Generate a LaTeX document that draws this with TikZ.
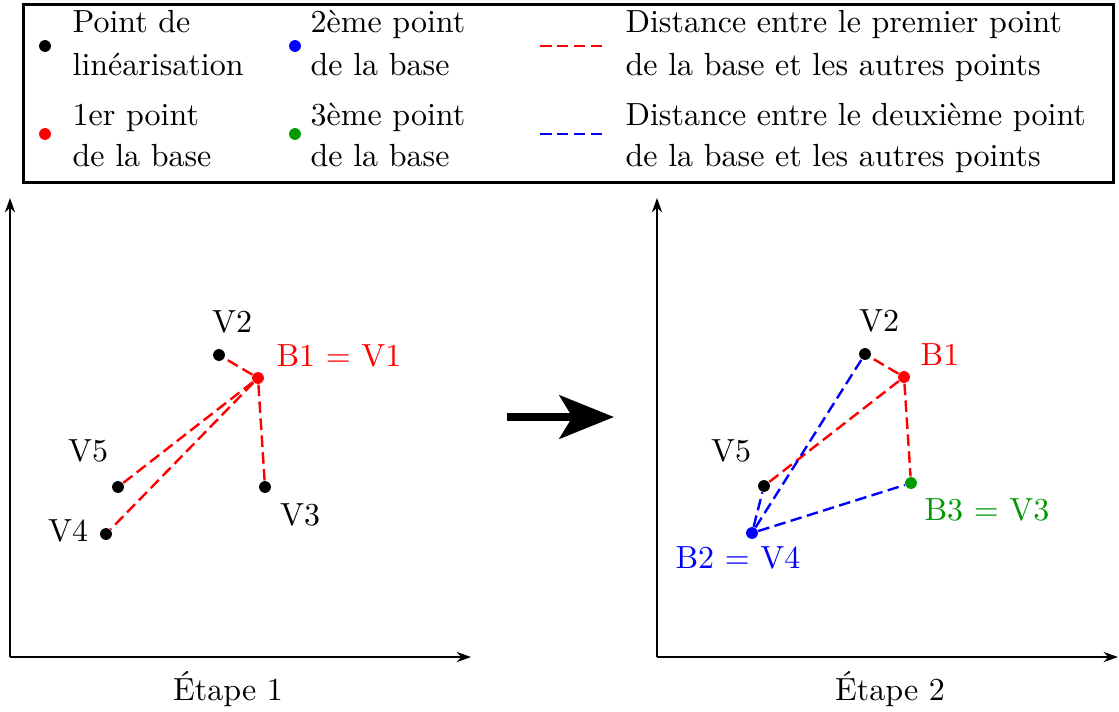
\documentclass[tikz,border=0pt]{standalone}
\usepackage{fontspec}
\usetikzlibrary{arrows.meta}
\definecolor{mygreen}{RGB}{0,153,0}
\begin{document}
\begin{tikzpicture}[x=0.3125pt,y=-0.3125pt,
  dot/.style={circle,fill=#1,inner sep=0pt,minimum size=3.7pt},
  dist/.style={draw=#1,line width=0.75pt,dash pattern=on 3.6pt off 1.7pt},
  lbl/.style={inner sep=0pt,anchor=base west},
  ptlbl/.style={inner sep=0pt,text=#1},
  axis/.style={line width=0.65pt,-{Stealth[length=4.5pt,width=3.2pt]}}]
\useasboundingbox (0,0) rectangle (1119,711);
% legend
\node[draw,line width=0.85pt,minimum width=1090*0.3125pt,minimum height=178*0.3125pt,anchor=north west,inner sep=0pt] (legend) at (22,3) {};
\node[dot=black] (lk) at (45,46) {};
\node[dot=red] (lr) at (45,134) {};
\node[dot=blue] (lb) at (295,46) {};
\node[dot=mygreen] (lg) at (295,134) {};
\node[lbl] (t1a) at (72,32) {Point de};
\node[lbl] (t1b) at (72,75) {linéarisation};
\node[lbl] (t2a) at (72,125) {1er point};
\node[lbl] (t2b) at (72,166) {de la base};
\node[lbl] (t3a) at (310,32) {2ème point};
\node[lbl] (t3b) at (310,75) {de la base};
\node[lbl] (t4a) at (310,125) {3ème point};
\node[lbl] (t4b) at (310,166) {de la base};
\coordinate (rl1) at (540,46); \coordinate (rl2) at (602,46);
\coordinate (bl1) at (540,134); \coordinate (bl2) at (602,134);
\draw[dist=red] (rl1) -- (rl2);
\draw[dist=blue] (bl1) -- (bl2);
\node[lbl] (t5a) at (625,32) {Distance entre le premier point};
\node[lbl] (t5b) at (625,75) {de la base et les autres points};
\node[lbl] (t6a) at (625,125) {Distance entre le deuxième point};
\node[lbl] (t6b) at (625,166) {de la base et les autres points};
% left plot
\coordinate (O1) at (10,657);
\coordinate (Y1) at (10,198);
\coordinate (X1) at (471,657);
\draw[axis] (O1) -- (Y1);
\draw[axis] (O1) -- (X1);
\node[dot=black] (aV2) at (219,355) {};
\node[dot=red] (aV1) at (258,378) {};
\node[dot=black] (aV3) at (265,487) {};
\node[dot=black] (aV5) at (118,487) {};
\node[dot=black] (aV4) at (106,534) {};
\draw[dist=red] (aV1) -- (aV2);
\draw[dist=red] (aV1) -- (aV5);
\draw[dist=red] (aV1) -- (aV4);
\draw[dist=red] (aV1) -- (aV3);
\node[ptlbl=black] (laV2) at (232,322) {V2};
\node[ptlbl=red] (laV1) at (339,356) {B1 = V1};
\node[ptlbl=black] (laV5) at (88,451) {V5};
\node[ptlbl=black] (laV4) at (68,531) {V4};
\node[ptlbl=black] (laV3) at (300,515) {V3};
\node[ptlbl=black] (e1) at (228,689) {Étape 1};
% big arrow
\coordinate (arS) at (507,417);
\coordinate (arE) at (614,417);
\draw[line width=2.6pt,-{Stealth[length=17pt,width=13.5pt,inset=4pt]}] (arS) -- (arE);
% right plot
\coordinate (O2) at (657,657);
\coordinate (Y2) at (657,198);
\coordinate (X2) at (1118,657);
\draw[axis] (O2) -- (Y2);
\draw[axis] (O2) -- (X2);
\node[dot=black] (bV2) at (865,354) {};
\node[dot=red] (bB1) at (904,377) {};
\node[dot=mygreen] (bB3) at (911,483) {};
\node[dot=black] (bV5) at (764,486) {};
\node[dot=blue] (bB2) at (752,533) {};
\draw[dist=red] (bB1) -- (bV2);
\draw[dist=red] (bB1) -- (bV5);
\draw[dist=red] (bB1) -- (bB3);
\draw[dist=blue] (bB2) -- (bV2);
\draw[dist=blue] (bB2) -- (bV5);
\draw[dist=blue] (bB2) -- (bB3);
\node[ptlbl=black] (lbV2) at (879,321) {V2};
\node[ptlbl=red] (lbB1) at (940,355) {B1};
\node[ptlbl=black] (lbV5) at (731,451) {V5};
\node[ptlbl=mygreen] (lbB3) at (987,510) {B3 = V3};
\node[ptlbl=blue] (lbB2) at (738,558) {B2 = V4};
\node[ptlbl=black] (e2) at (890,689) {Étape 2};
\end{tikzpicture}
\end{document}
